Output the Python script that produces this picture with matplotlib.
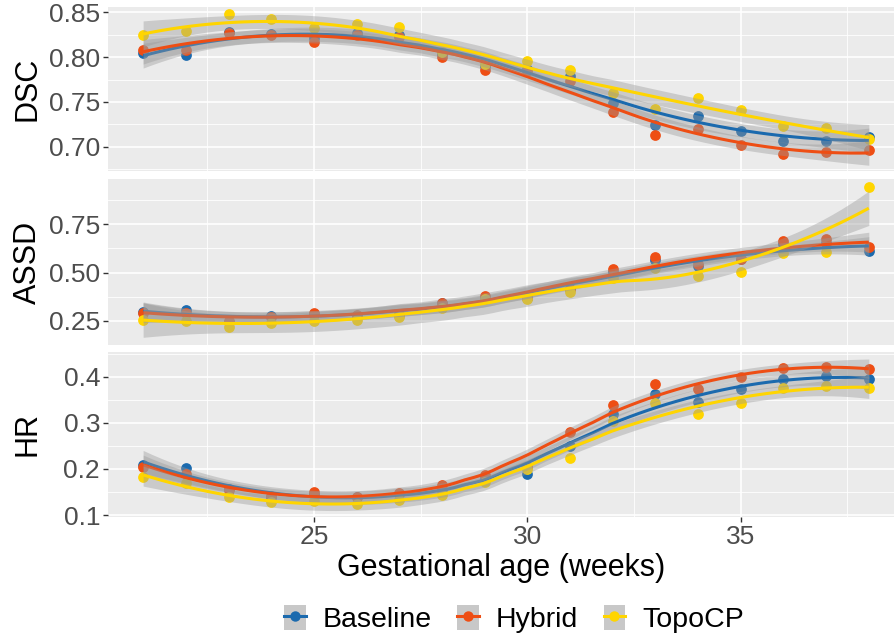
import numpy as np
import matplotlib
matplotlib.use("Agg")
import matplotlib.pyplot as plt
from matplotlib.patches import Patch
from matplotlib.lines import Line2D
from matplotlib.ticker import FixedLocator

plt.rcParams['font.family'] = ['Liberation Sans', 'DejaVu Sans']

weeks = np.arange(21, 39)
methods = ["Baseline", "Hybrid", "TopoCP"]
colors = {"Baseline": "#1B6AAE", "Hybrid": "#EE4E14", "TopoCP": "#FFD500"}

dsc_baseline = [0.805, 0.802, 0.828, 0.826, 0.821, 0.827, 0.824, 0.803, 0.790, 0.787,
                0.779, 0.749, 0.724, 0.734, 0.718, 0.707, 0.707, 0.711]
dsc_hybrid = [0.808, 0.808, 0.827, 0.824, 0.817, 0.825, 0.822, 0.800, 0.786, 0.784,
              0.773, 0.739, 0.713, 0.720, 0.702, 0.692, 0.694, 0.697]
dsc_topocp = [0.824, 0.829, 0.848, 0.842, 0.832, 0.837, 0.833, 0.806, 0.792, 0.796,
              0.786, 0.760, 0.742, 0.754, 0.741, 0.723, 0.721, 0.709]

assd_baseline = [0.294, 0.305, 0.245, 0.276, 0.285, 0.276, 0.283, 0.340, 0.370, 0.369,
                 0.413, 0.504, 0.565, 0.535, 0.568, 0.648, 0.655, 0.610]
assd_hybrid = [0.290, 0.290, 0.250, 0.270, 0.290, 0.280, 0.280, 0.340, 0.378, 0.370,
               0.415, 0.517, 0.579, 0.545, 0.570, 0.663, 0.674, 0.630]
assd_topocp = [0.254, 0.250, 0.219, 0.240, 0.250, 0.254, 0.271, 0.314, 0.360, 0.360,
               0.400, 0.470, 0.522, 0.482, 0.504, 0.600, 0.608, 0.945]

hr_baseline = [0.209, 0.2015, 0.157, 0.140, 0.146, 0.140, 0.145, 0.155, 0.180, 0.188,
               0.249, 0.319, 0.363, 0.346, 0.373, 0.396, 0.402, 0.395]
hr_hybrid = [0.205, 0.190, 0.155, 0.142, 0.151, 0.140, 0.148, 0.165, 0.187, 0.205,
             0.280, 0.338, 0.384, 0.374, 0.400, 0.419, 0.422, 0.417]
hr_topocp = [0.183, 0.169, 0.140, 0.129, 0.130, 0.123, 0.133, 0.143, 0.171, 0.200,
             0.223, 0.304, 0.344, 0.320, 0.343, 0.375, 0.380, 0.375]

panels = [
    ("DSC", {"Baseline": dsc_baseline, "Hybrid": dsc_hybrid, "TopoCP": dsc_topocp},
     (0.6733, 0.8556), [0.70, 0.75, 0.80, 0.85], ["0.70", "0.75", "0.80", "0.85"],
     [0.675, 0.725, 0.775, 0.825]),
    ("ASSD", {"Baseline": assd_baseline, "Hybrid": assd_hybrid, "TopoCP": assd_topocp},
     (0.124, 0.985), [0.25, 0.50, 0.75], ["0.25", "0.50", "0.75"],
     [0.125, 0.375, 0.625, 0.875]),
    ("HR", {"Baseline": hr_baseline, "Hybrid": hr_hybrid, "TopoCP": hr_topocp},
     (0.0957, 0.454), [0.1, 0.2, 0.3, 0.4], ["0.1", "0.2", "0.3", "0.4"],
     [0.15, 0.25, 0.35, 0.45]),
]
x_ticks = [25, 30, 35]
x_minor = [22.5, 27.5, 32.5, 37.5]


def t_quantile(df, z=1.959964):
    return (z + (z**3 + z) / (4 * df) + (5 * z**5 + 16 * z**3 + 3 * z) / (96 * df**2)
            + (3 * z**7 + 19 * z**5 + 17 * z**3 - 15 * z) / (384 * df**3))


def loess_rows(x, xs, span=0.75, degree=2):
    n = len(x)
    q = int(np.floor(n * span))
    rows = []
    for x0 in xs:
        d = np.abs(x - x0)
        h = np.sort(d)[q - 1]
        u = np.clip(d / h, 0, 1)
        w = (1 - u**3) ** 3
        X = np.vander(x - x0, degree + 1, increasing=True)
        XtW = X.T * w
        A = np.linalg.solve(XtW @ X, XtW)
        rows.append(A[0])
    return np.array(rows)


def loess_fit(x, y, xs):
    x = np.asarray(x, float)
    y = np.asarray(y, float)
    L = loess_rows(x, x)
    I = np.eye(len(x))
    M = (I - L).T @ (I - L)
    d1 = np.trace(M)
    d2 = np.trace(M @ M)
    res = y - L @ y
    sigma = np.sqrt(np.sum(res**2) / d1)
    df = d1**2 / d2
    Ls = loess_rows(x, xs)
    fit = Ls @ y
    se = sigma * np.sqrt(np.sum(Ls**2, axis=1))
    t = t_quantile(df)
    return fit, fit - t * se, fit + t * se


W, H = 894, 638
fig = plt.figure(figsize=(W / 100, H / 100), dpi=100)
left = 107.7 / W
right = 1.0
boxes = [(7, 171), (179, 345), (352, 517)]
xs = np.linspace(weeks.min(), weeks.max(), 80)
xlim = (20.17, 38.59)

for i, (name, data, ylim, yt, ytl, ymin) in enumerate(panels):
    top, bot = boxes[i]
    ax = fig.add_axes([left, 1 - bot / H, right - left, (bot - top) / H])
    ax.set_facecolor("#EBEBEB")
    for s in ax.spines.values():
        s.set_visible(False)
    ax.set_xlim(*xlim)
    ax.set_ylim(*ylim)
    ax.set_yticks(yt)
    ax.set_yticklabels(ytl)
    ax.yaxis.set_minor_locator(FixedLocator(ymin))
    ax.set_xticks(x_ticks)
    ax.xaxis.set_minor_locator(FixedLocator(x_minor))
    ax.grid(True, which="major", color="white", linewidth=1.2, zorder=0)
    ax.grid(True, which="minor", color="white", linewidth=0.6, zorder=0)
    ax.set_axisbelow(True)
    ax.tick_params(axis="both", which="major", length=3.5, width=1.0, color="#333333",
                   labelsize=19, labelcolor="#4D4D4D", pad=2)
    ax.tick_params(axis="both", which="minor", length=0)
    if i < 2:
        ax.tick_params(axis="x", which="major", length=0, labelbottom=False)
    ax.set_ylabel(name, fontsize=22, color="black")
    ax.yaxis.set_label_coords(-(left * W - 43) / ((right - left) * W), 0.5)

    for m in methods:
        ax.scatter(weeks, data[m], s=60, color=colors[m], zorder=2, linewidths=0)
    for m in methods:
        fit, lo, hi = loess_fit(weeks, data[m], xs)
        ax.fill_between(xs, lo, hi, color="#999999", alpha=0.4, linewidth=0, zorder=3)
        ax.plot(xs, fit, color=colors[m], linewidth=2.2, zorder=3, solid_capstyle="butt")
    if i == 2:
        ax.set_xlabel("Gestational age (weeks)", fontsize=22, color="black", labelpad=3)

handles = []
for m in methods:
    handles.append((Patch(facecolor="#C8C8C8", edgecolor="none"),
                    Line2D([], [], color=colors[m], linewidth=2.2, marker="o",
                           markersize=7.5, markeredgewidth=0)))
fig.legend(handles, methods, loc="center", bbox_to_anchor=(0.575, 1 - 619 / H), ncol=3,
           frameon=False, fontsize=20.5, handlelength=0.75, handleheight=1.0,
           handletextpad=0.6, columnspacing=0.9)

fig.savefig("out.png", dpi=100)
